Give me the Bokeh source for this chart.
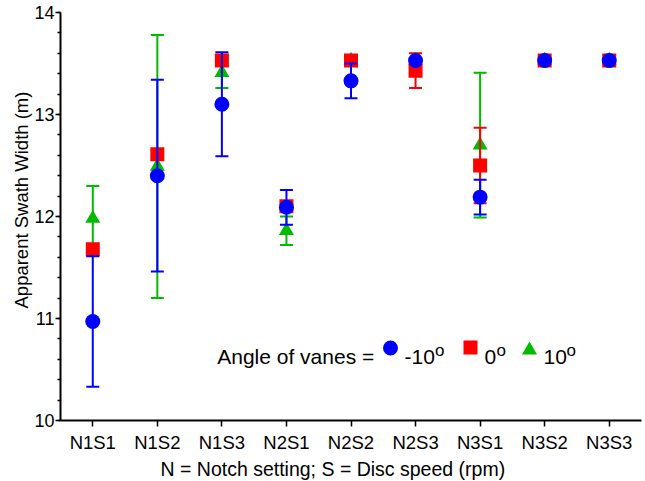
import numpy as np
from bokeh.plotting import figure
from bokeh.models import ColumnDataSource, Range1d, FixedTicker, Title
from bokeh.core.properties import value
from bokeh.embed import file_html
from bokeh.resources import INLINE

# Treatment combinations: N = notch setting, S = disc speed
settings = ["N1S1", "N1S2", "N1S3", "N2S1", "N2S2", "N2S3", "N3S1", "N3S2", "N3S3"]

# Apparent swath width (m), mean and error half-width, per vane angle
mean_m10 = [10.97, 12.40, 13.10, 12.09, 13.33, 13.53, 12.19, 13.53, 13.53]
err_m10 = [0.64, 0.94, 0.51, 0.17, 0.17, 0.0, 0.17, 0.0, 0.0]

mean_0 = [11.68, 12.61, 13.53, 12.10, 13.53, 13.43, 12.50, 13.53, 13.53]
err_0 = [0.0, 0.0, 0.0, 0.0, 0.0, 0.17, 0.37, 0.0, 0.0]

mean_p10 = [11.98, 12.49, 13.41, 11.86, 13.53, 13.53, 12.70, 13.53, 13.53]
err_p10 = [0.32, 1.29, 0.15, 0.14, 0.0, 0.0, 0.71, 0.0, 0.0]

y_major = [10, 11, 12, 13, 14]

FONT = "Liberation Sans"
BLUE, RED, GREEN = "#0000ff", "#ff0000", "#00bb00"

W, H = 645, 481
LEFT, RIGHT, TOP, BOTTOM = 60, 4, 12, 61
FW, FH = W - LEFT - RIGHT, H - TOP - BOTTOM

# one slot per treatment, centred on i + 0.5
xpos = [i + 0.5 for i in range(len(settings))]

p = figure(width=W, height=H,
           x_range=Range1d(0, len(settings)), y_range=Range1d(10, 14),
           output_backend="svg", toolbar_location=None,
           min_border_left=LEFT, min_border_right=RIGHT,
           min_border_top=TOP, min_border_bottom=BOTTOM)
p.outline_line_color = None
p.grid.visible = False
p.background_fill_color = "white"
p.border_fill_color = "white"

# pixel-space ranges for the in-plot key
p.extra_x_ranges = {"px": Range1d(0, FW)}
p.extra_y_ranges = {"py": Range1d(0, FH)}

# axes
for ax in (p.xaxis[0], p.yaxis[0]):
    ax.axis_line_color = "black"
    ax.axis_line_width = 2
    ax.major_tick_line_color = "black"
    ax.major_tick_line_width = 1.5
    ax.major_tick_in = 0
    ax.major_label_text_font = FONT
    ax.major_label_text_color = "black"

p.xaxis.ticker = FixedTicker(ticks=xpos, minor_ticks=[])
p.xaxis.major_label_overrides = {x: s for x, s in zip(xpos, settings)}
p.xaxis.major_tick_out = 6
p.xaxis.minor_tick_line_color = None
p.xaxis.major_label_text_font_size = "18.5px"
p.xaxis.major_label_standoff = 5

p.yaxis.ticker = FixedTicker(ticks=y_major,
                             minor_ticks=list(np.round(np.arange(10, 14.01, 0.2), 1)))
p.yaxis.major_tick_out = 5
p.yaxis.minor_tick_out = 3
p.yaxis.minor_tick_in = 0
p.yaxis.minor_tick_line_color = "black"
p.yaxis.minor_tick_line_width = 1.5
p.yaxis.major_label_text_font_size = "18px"
p.yaxis.major_label_standoff = 1


def draw_series(mean, err, color, marker, size):
    keep = [i for i, e in enumerate(err) if e > 0]
    src = ColumnDataSource(dict(
        x=[xpos[i] for i in keep],
        lo=[mean[i] - err[i] for i in keep],
        hi=[mean[i] + err[i] for i in keep],
    ))
    p.segment(x0="x", y0="lo", x1="x", y1="hi", source=src,
              line_color=color, line_width=2)
    for end in ("lo", "hi"):
        p.scatter(x="x", y=end, source=src, marker="dash", size=13,
                  line_color=color, line_width=2)
    p.scatter(x=xpos, y=mean, marker=marker, size=size,
              fill_color=color, line_color=None)


draw_series(mean_p10, err_p10, GREEN, "triangle", 15)
draw_series(mean_0, err_0, RED, "square", 14)
draw_series(mean_m10, err_m10, BLUE, "circle", 15)

# key: "Angle of vanes = (marker) -10° (marker) 0° (marker) 10°"
key_base = 64
p.text(x=[156.7], y=[key_base], text=["Angle of vanes ="],
       x_range_name="px", y_range_name="py",
       text_font=value(FONT), text_font_size="21px", text_color="black",
       text_align="left", text_baseline="alphabetic")

key_markers = ["circle", "square", "triangle"]
key_colors = [BLUE, RED, GREEN]
key_sizes = [15, 14, 15]
key_mx = [330, 410, 469]
key_my = [72.5, 73, 70.4]
key_labels = ["-10", "0", "10"]
key_lx = [344, 424, 483]
key_ox = [374.5, 436, 506]

p.scatter(x=key_mx, y=key_my, marker=key_markers, size=key_sizes,
          fill_color=key_colors, line_color=None,
          x_range_name="px", y_range_name="py")
p.text(x=key_lx, y=[key_base] * 3, text=key_labels,
       x_range_name="px", y_range_name="py",
       text_font=value(FONT), text_font_size="21px", text_color="black",
       text_align="left", text_baseline="alphabetic")
p.text(x=key_ox, y=[key_base + 6] * 3, text=["o"] * 3,
       x_range_name="px", y_range_name="py",
       text_font=value(FONT), text_font_size="17px", text_color="black",
       text_align="left", text_baseline="alphabetic")

# axis titles, placed in the side panels beyond the axes
p.add_layout(Title(text="N = Notch setting; S = Disc speed (rpm)",
                   align="left", offset=100, standoff=0,
                   text_font=FONT, text_font_size="19.5px",
                   text_font_style="normal", text_color="black"), "below")
p.add_layout(Title(text="Apparent Swath Width (m)",
                   align="left", offset=112, standoff=0,
                   text_font=FONT, text_font_size="18.5px",
                   text_font_style="normal", text_color="black"), "left")

open("out.html", "w").write(file_html(p, INLINE))
